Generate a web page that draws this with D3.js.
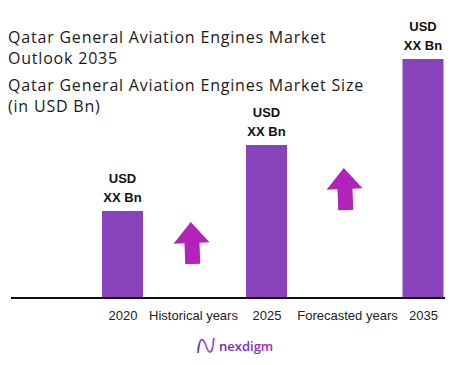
<!DOCTYPE html>
<html>
<head>
<meta charset="utf-8">
<script src="https://cdn.jsdelivr.net/npm/d3@7"></script>
<style>
  body { margin: 0; background: #fff; }
  text { font-family: "Liberation Sans", Arial, sans-serif; }
</style>
</head>
<body>
<div id="chart"></div>
<script>
// chart data
const slots = ["2020", "Historical years", "2025", "Forecasted years", "2035"]
const years = ["2020", "2025", "2035"]
const sizes = [87, 153, 239]          // relative bar heights (values hidden as XX)
const valueLabels = ["USD", "XX Bn"]
const titleLines = ["Qatar General Aviation Engines Market", "Outlook 2035"]
const subtitleLines = ["Qatar General Aviation Engines Market Size", "(in USD Bn)"]
const arrowSlots = ["Historical years", "Forecasted years"]
const arrowLift = [55, 109]          // arrow mid height above the axis

const width = 471
const height = 365
const margin = { left: 11, right: 26, top: 59, bottom: 67 }
const barW = 41

const svg = d3.select("#chart").append("svg")
  .attr("width", width)
  .attr("height", height)

const baseY = height - margin.bottom
const x = d3.scaleOrdinal().domain(slots).range([122.5, 193, 266.5, 347, 423])
const y = d3.scaleLinear().domain([0, d3.max(sizes)]).range([baseY, margin.top])

// titles
const titleG = svg.append("g").attr("class", "titles")
titleG.selectAll(".t1").data(titleLines).enter().append("text")
  .attr("x", 8)
  .attr("y", (d, i) => 43 + i * 21)
  .style("font-family", "'Open Sans', sans-serif")
  .style("font-size", "16px")
  .style("letter-spacing", "0.8px")
  .style("fill", "#1a1a1a")
  .text(d => d)
titleG.selectAll(".t2").data(subtitleLines).enter().append("text")
  .attr("x", 8)
  .attr("y", (d, i) => 91 + i * 21)
  .style("font-family", "'Open Sans', sans-serif")
  .style("font-size", "16px")
  .style("letter-spacing", "0.8px")
  .style("fill", "#1a1a1a")
  .text(d => d)

// bars
const bars = years.map((yr, i) => ({ year: yr, v: sizes[i] }))
svg.selectAll(".bar").data(bars).enter().append("rect")
  .attr("class", "bar")
  .attr("x", d => x(d.year) - barW / 2)
  .attr("y", d => y(d.v))
  .attr("width", barW)
  .attr("height", d => baseY - y(d.v))
  .style("fill", "#8943ba")

// value labels on top of bars
bars.forEach(d => {
  valueLabels.forEach((lab, j) => {
    svg.append("text")
      .attr("x", x(d.year))
      .attr("y", y(d.v) - 28 + j * 19)
      .attr("text-anchor", "middle")
      .style("font-size", "13px")
      .style("font-weight", "bold")
      .style("fill", "#111")
      .text(lab)
  })
})

// axis line + category labels
const axis = d3.axisBottom(x).tickSize(0).tickPadding(13)
const axG = svg.append("g")
  .attr("transform", "translate(0," + baseY + ")")
  .call(axis)
axG.select(".domain").remove()
axG.selectAll("text")
  .style("font-family", "'Liberation Sans', Arial, sans-serif")
  .style("font-size", "13px")
  .style("fill", "#222")
svg.append("line")
  .attr("x1", margin.left).attr("x2", width - margin.right)
  .attr("y1", baseY).attr("y2", baseY)
  .style("stroke", "#111")
  .style("stroke-width", 2)

// up arrows
const arrowPath = "M0,-21 L18,0 L8,0 L8,21 L-7,21 L-7,0 L-18,0 Z"
arrowSlots.forEach((s, i) => {
  svg.append("path")
    .attr("d", arrowPath)
    .attr("transform", "translate(" + (x(s) - 1.5 - i) + "," + (baseY - arrowLift[i]) + ") rotate(-2)")
    .style("fill", "#b322b9")
})

// logo
const grad = svg.append("defs").append("linearGradient").attr("id", "lg")
grad.append("stop").attr("offset", "0%").attr("stop-color", "#5b2bc0")
grad.append("stop").attr("offset", "100%").attr("stop-color", "#a62fc0")
const logo = svg.append("g").attr("transform", "translate(197,338)")
logo.append("path")
  .attr("d", "M1,15 C2,6 3,0 6,2 C9,5 10,14 13,14 C16,14 16,6 17,0")
  .style("fill", "none").style("stroke", "url(#lg)").style("stroke-width", 1.6)
logo.append("path")
  .attr("d", "M0,13 C1,4 4,-1 7,4 C10,10 11,16 14,12 C16,9 16,4 16,1")
  .style("fill", "none").style("stroke", "#c07ad8").style("stroke-width", 0.8)
svg.append("text")
  .attr("x", 219)
  .attr("y", 351)
  .style("font-family", "'Open Sans', sans-serif")
  .style("font-size", "13px")
  .style("font-weight", "600")
  .style("fill", "url(#lg)")
  .text("nexdigm")
</script>
</body>
</html>
